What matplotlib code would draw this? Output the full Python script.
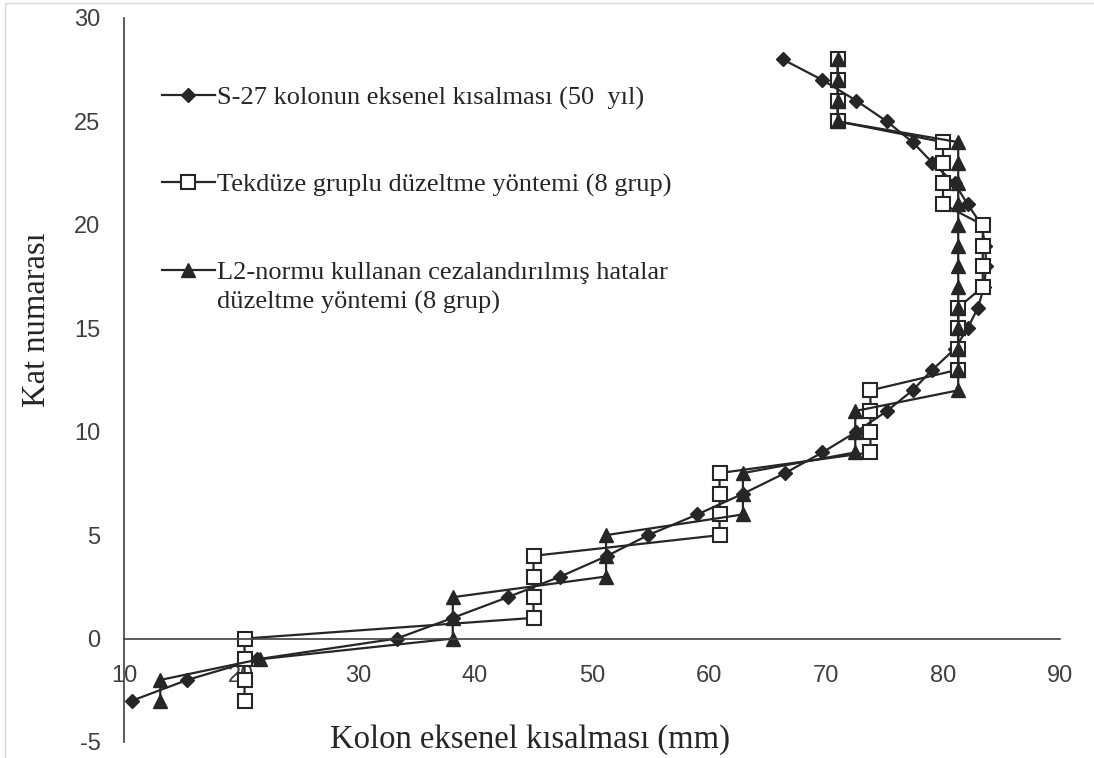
import matplotlib.pyplot as plt
import numpy as np
from matplotlib.patches import Rectangle

plt.rcParams["axes.unicode_minus"] = False

# floors -3 .. 28
floors = np.arange(-3, 29)

# S-27 kolonun eksenel kisalmasi (50 yil)
s27 = [10.7, 15.4, 21.4, 33.3, 38.1, 42.8, 47.3, 51.3, 54.8, 59.0, 62.9,
       66.5, 69.7, 72.6, 75.2, 77.4, 79.1, 81.0, 82.1, 83.0, 83.5, 83.7,
       83.6, 83.3, 82.1, 81.0, 79.1, 77.4, 75.2, 72.6, 69.7, 66.3]

# Tekduze gruplu duzeltme (8 grup)
tekduze = [20.3, 20.3, 20.3, 20.3, 45.0, 45.0, 45.0, 45.0, 60.9, 60.9, 60.9,
           60.9, 73.8, 73.8, 73.8, 73.8, 81.3, 81.3, 81.3, 81.3, 83.4, 83.4,
           83.4, 83.4, 80.0, 80.0, 80.0, 80.0, 71.0, 71.0, 71.0, 71.0]

# L2-normu cezalandirilmis hatalar (8 grup)
l2norm = [13.1, 13.1, 21.6, 38.1, 38.1, 38.1, 51.2, 51.2, 51.2, 62.9, 62.9,
          62.9, 72.5, 72.5, 72.5, 81.3, 81.3, 81.3, 81.3, 81.3, 81.3, 81.3,
          81.3, 81.3, 81.3, 81.3, 81.3, 81.3, 71.0, 71.0, 71.0, 71.0]

labels = ["S-27 kolonun eksenel kısalması (50  yıl)",
          "Tekdüze gruplu düzeltme yöntemi (8 grup)",
          "L2-normu kullanan cezalandırılmış hatalar"]
label_line2 = "düzeltme yöntemi (8 grup)"

col = "#262626"
serif = "Liberation Serif"

fig = plt.figure(figsize=(10.94, 7.58), dpi=100)
ax = fig.add_axes([124 / 1094, 16 / 758, 936 / 1094, 724 / 758])

# light chart border (partly cut off in the original)
fig.patches.append(Rectangle((5 / 1094, -0.1), 1.1, 1 - 3 / 758 + 0.1,
                             transform=fig.transFigure, fill=False,
                             ec="#d9d9d9", lw=1))

ax.plot(s27, floors, color=col, lw=1.6, marker="D", ms=7, label=labels[0])
ax.plot(tekduze, floors, color=col, lw=1.6, marker="s", ms=10,
        mfc="white", mec=col, mew=1.5, label=labels[1])
ax.plot(l2norm, floors, color=col, lw=1.6, marker="^", ms=10, label=labels[2])

ax.set_xlim(10, 90)
ax.set_ylim(-5, 30)
ax.set_xticks(np.arange(10, 91, 10))
ax.set_yticks(np.arange(-5, 31, 5))

ax.spines["top"].set_visible(False)
ax.spines["right"].set_visible(False)
ax.spines["bottom"].set_position(("data", 0))
for s in ["left", "bottom"]:
    ax.spines[s].set_color("#404040")
    ax.spines[s].set_linewidth(1.2)

ax.tick_params(axis="x", length=0, pad=19, labelsize=17, colors="#404040")
ax.tick_params(axis="y", length=0, pad=17, labelsize=17, colors="#404040")
for t in ax.get_xticklabels() + ax.get_yticklabels():
    t.set_fontfamily("Liberation Sans")

fig.text(530 / 1094, 1 - 740 / 758, "Kolon eksenel kısalması (mm)",
         family=serif, fontsize=23.5, ha="center", va="center", color=col)
fig.text(37 / 1094, 1 - 320 / 758, "Kat numarası", family=serif,
         fontsize=23.5, ha="center", va="center", rotation=90, color=col)

leg = ax.legend(loc="upper left", bbox_to_anchor=(162 / 1094, 1 - 86 / 758),
                bbox_transform=fig.transFigure, frameon=False,
                borderpad=0, borderaxespad=0, handlelength=2.0,
                handletextpad=0.1, labelspacing=2.4,
                prop={"family": serif, "size": 19})
for t in leg.get_texts():
    t.set_color(col)

# second line of the third legend entry
fig.canvas.draw()
bb = leg.get_texts()[2].get_window_extent()
fig.text(bb.x0 / 1094, ((bb.y0 + bb.y1) / 2 - 30) / 758, label_line2,
         family=serif, fontsize=19, ha="left", va="center", color=col)

plt.savefig("out.png", dpi=100)
